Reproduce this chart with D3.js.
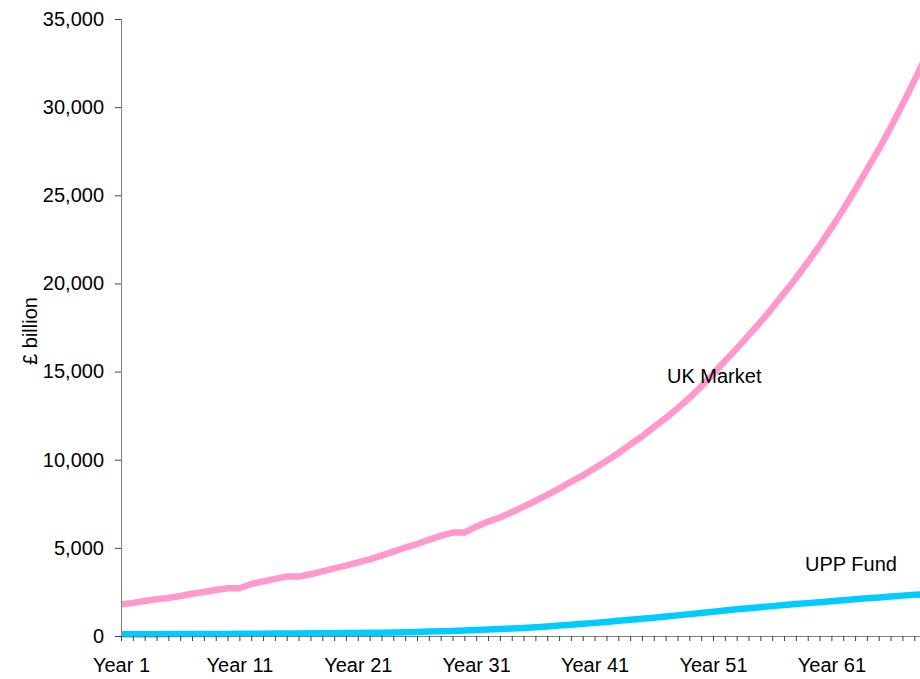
<!DOCTYPE html>
<html>
<head>
<meta charset="utf-8">
<script src="https://cdn.jsdelivr.net/npm/d3@7/dist/d3.min.js"></script>
<style>
  html, body { margin: 0; padding: 0; background: #fff; }
  svg { display: block; }
  text { font-family: "Liberation Sans", Arial, sans-serif; fill: #000; }
</style>
</head>
<body>
<div id="chart"></div>
<script>
// Projected value of the UK market and the UPP fund, £ billion, by year
const years = d3.range(1, 71).map(n => "Year " + n);

const ukMarket = [
  1800, 1870, 1990, 2080, 2160, 2270, 2400, 2500, 2610, 2710,
  2710, 2950, 3100, 3240, 3370, 3370, 3500, 3670, 3840, 3990,
  4180, 4350, 4560, 4790, 5010, 5220, 5450, 5680, 5870, 5870,
  6200, 6490, 6720, 7020, 7340, 7660, 8000, 8360, 8750, 9100,
  9520, 9930, 10370, 10860, 11320, 11850, 12360, 12910, 13500, 14150,
  14850, 15600, 16300, 17050, 17800, 18600, 19450, 20300, 21200, 22150,
  23150, 24200, 25300, 26450, 27600, 28850, 30150, 31500, 32900, 34350
];

const uppFund = [
  100, 100, 105, 105, 110, 110, 115, 115, 120, 120,
  125, 125, 130, 135, 140, 145, 150, 155, 160, 165,
  170, 180, 190, 200, 215, 230, 250, 270, 290, 310,
  340, 365, 395, 425, 460, 500, 545, 590, 640, 690,
  745, 800, 860, 920, 980, 1040, 1100, 1170, 1240, 1310,
  1380, 1450, 1515, 1575, 1635, 1695, 1755, 1810, 1865, 1920,
  1975, 2030, 2085, 2140, 2190, 2240, 2290, 2340, 2380, 2420
];

const yTicks = [0, 5000, 10000, 15000, 20000, 25000, 30000, 35000];
const labelledYears = ["Year 1", "Year 11", "Year 21", "Year 31", "Year 41", "Year 51", "Year 61"];

const W = 920, H = 679;
const plotLeft = 121, plotTop = 19, plotBottom = 636;
const step = 11.84;

const svg = d3.select("#chart").append("svg")
  .attr("width", W).attr("height", H);

const x = d3.scalePoint()
  .domain(years)
  .range([plotLeft, plotLeft + step * (years.length - 1)]);

const y = d3.scaleLinear()
  .domain([0, 35000])
  .range([plotBottom, plotTop]);

// Series lines
const line = d3.line()
  .x((d, i) => x(years[i]))
  .y(d => y(d));

svg.append("path")
  .datum(ukMarket)
  .attr("d", line)
  .attr("fill", "none")
  .attr("stroke", "#FF99CC")
  .attr("stroke-width", 6.5)
  .attr("stroke-linejoin", "round");

svg.append("path")
  .datum(uppFund)
  .attr("d", line)
  .attr("fill", "none")
  .attr("stroke", "#00CCFF")
  .attr("stroke-width", 6.5)
  .attr("stroke-linejoin", "round");

// Y axis
const yAxis = svg.append("g")
  .attr("transform", `translate(${plotLeft},0)`)
  .call(d3.axisLeft(y)
    .tickValues(yTicks)
    .tickFormat(d3.format(","))
    .tickSize(6)
    .tickPadding(11));
yAxis.select(".domain").attr("stroke", "#808080").attr("d", `M0.5,${plotBottom}V${plotTop}`);
yAxis.selectAll(".tick line").attr("stroke", "#404040");
yAxis.selectAll(".tick text")
  .attr("font-size", 20)
  .attr("font-family", "'Liberation Sans', Arial, sans-serif")
  .attr("fill", "#000");

// X axis
const xAxis = svg.append("g")
  .attr("transform", `translate(0,${plotBottom})`)
  .call(d3.axisBottom(x)
    .tickSize(5)
    .tickPadding(17)
    .tickFormat(d => labelledYears.includes(d) ? d : ""));
xAxis.select(".domain").attr("stroke", "#808080").attr("d", `M${plotLeft},0.5H${W}`);
xAxis.selectAll(".tick line").attr("stroke", "#404040");
xAxis.selectAll(".tick text")
  .attr("font-size", 20)
  .attr("font-family", "'Liberation Sans', Arial, sans-serif")
  .attr("fill", "#000");

// Axis title
svg.append("text")
  .attr("transform", "translate(37,331) rotate(-90)")
  .attr("text-anchor", "middle")
  .attr("font-size", 20)
  .text("£ billion");

// Series labels
svg.append("text")
  .attr("x", 667).attr("y", 383)
  .attr("font-size", 20)
  .text("UK Market");

svg.append("text")
  .attr("x", 805).attr("y", 571)
  .attr("font-size", 20)
  .text("UPP Fund");
</script>
</body>
</html>
